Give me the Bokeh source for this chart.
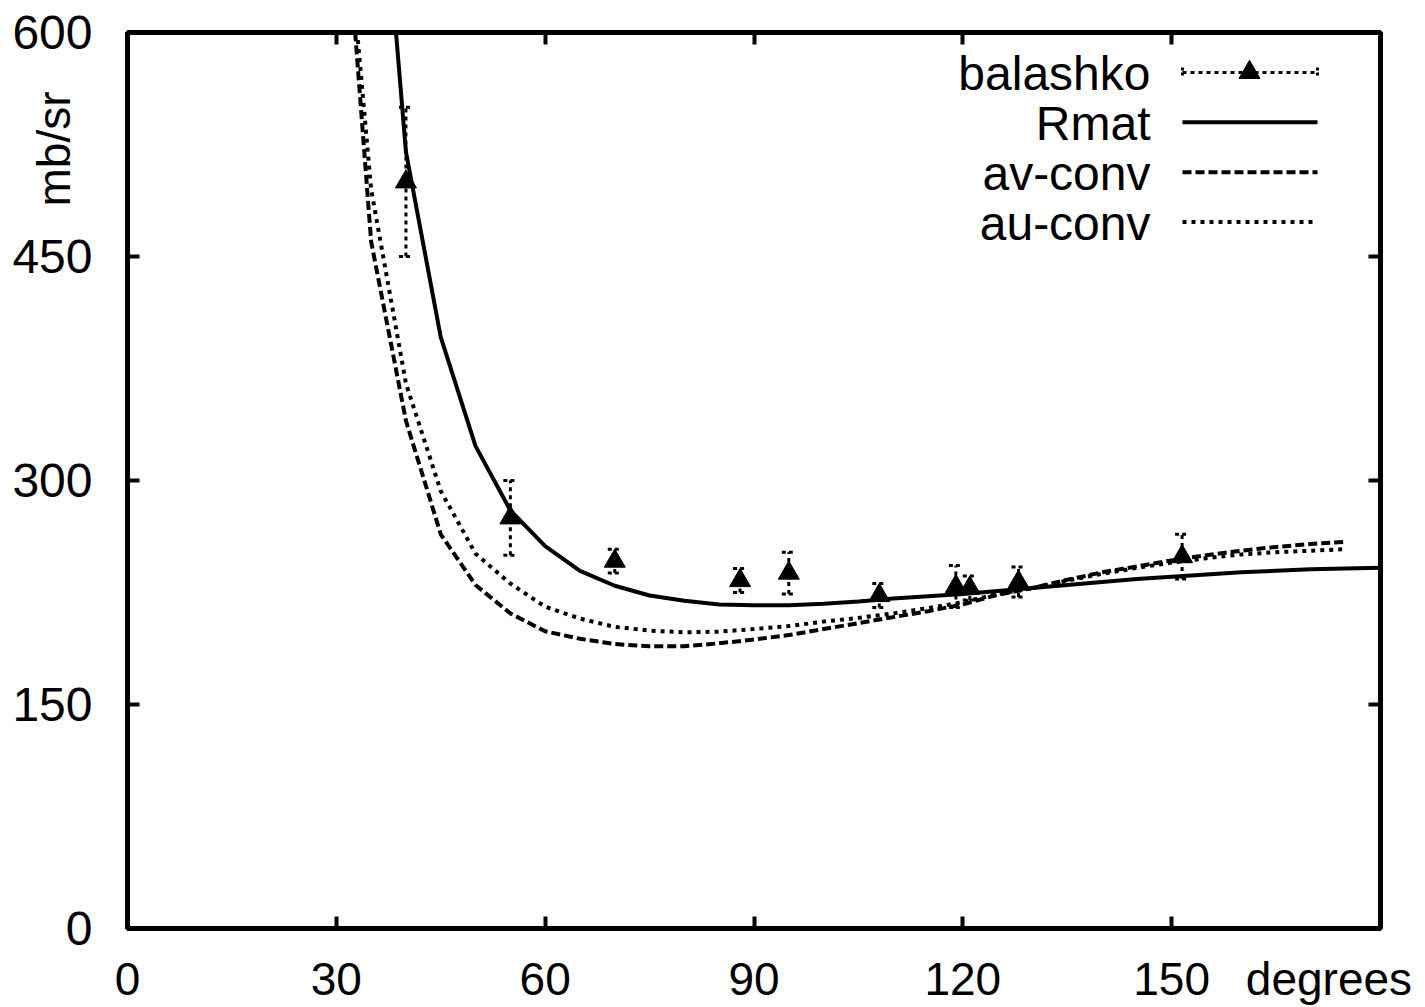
import math

from bokeh.plotting import figure
from bokeh.models import LinearAxis, FixedTicker, Label, Range1d
from bokeh.embed import file_html
from bokeh.resources import INLINE

FONT = "Liberation Sans"

# axis ticks
x_ticks = [0, 30, 60, 90, 120, 150]
y_ticks = [0, 150, 300, 450, 600]
x_unit_pos = 172.6  # where the "degrees" caption sits along the x scale
y_unit_pos = 522    # where the "mb/sr" caption sits along the y scale

# measured cross sections (balashko) with uncertainties
exp_angle = [40, 55, 70, 88, 95, 108, 119, 121, 128, 151.5]
exp_value = [500, 275, 246, 233, 238, 223, 229, 228, 232, 249]
exp_error = [50, 25, 8, 8, 14, 8, 14, 8, 10, 15]

# R-matrix calculation
rmat_angle = list(range(35, 181, 5))
rmat_value = [800, 520, 396, 323, 280, 256, 239.5, 229.5, 223, 219.5,
              217, 216.5, 216.5, 217.5, 219, 221, 222.5, 224, 226, 228,
              230, 232, 234, 235.5, 237, 238.5, 239.5, 240.5, 241, 241.5]

# convolution calculations
conv_angle = list(range(30, 176, 5))
av_value = [765, 460, 340, 264, 230, 211, 199, 194, 190.5, 189,
            189, 191, 193.5, 196.5, 200.5, 204.5, 208.5, 212.5, 217, 223.5,
            228, 233.5, 238.5, 242.5, 246.5, 250, 253, 255.5, 257.5, 259]
au_value = [757, 495, 365, 293, 251, 231, 215.5, 207.5, 202, 199.5,
            198.3, 198.8, 200.5, 202.5, 205.5, 208, 211, 214.5, 218.5, 224,
            228, 233, 237.5, 241.5, 245, 248, 250.5, 252, 253, 254]

X_MAX, Y_MAX = 180, 600
LEFT, RIGHT, TOP, BOTTOM = 127, 45, 32, 77
W, H = 1425, 1007

p = figure(width=W, height=H, x_range=Range1d(0, X_MAX), y_range=Range1d(0, Y_MAX),
           output_backend="svg", toolbar_location=None,
           min_border_left=LEFT, min_border_right=RIGHT,
           min_border_top=TOP, min_border_bottom=BOTTOM)

p.xgrid.visible = False
p.ygrid.visible = False
p.outline_line_color = "black"
p.outline_line_width = 5
p.background_fill_color = "white"
p.border_fill_color = "white"


def tick_axis(ax, ticks):
    """Inward ticks only, no labels."""
    ax.ticker = FixedTicker(ticks=ticks)
    ax.axis_line_color = None
    ax.major_tick_in = 12
    ax.major_tick_out = 0
    ax.major_tick_line_width = 4
    ax.major_tick_line_color = "black"
    ax.minor_tick_line_color = None
    ax.major_label_overrides = {t: "" for t in ticks}
    ax.major_label_text_font_size = "1px"
    ax.major_label_standoff = 0


def label_axis(ax, ticks, standoff):
    """Labels only, no tick marks."""
    ax.ticker = FixedTicker(ticks=ticks)
    ax.axis_line_color = None
    ax.major_tick_in = 0
    ax.major_tick_out = 0
    ax.major_tick_line_color = None
    ax.minor_tick_line_color = None
    ax.major_label_text_font = FONT
    ax.major_label_text_font_size = "46px"
    ax.major_label_text_color = "black"
    ax.major_label_standoff = standoff


# bottom: ticks on the frame, then a label row that also carries the unit
tick_axis(p.xaxis[0], x_ticks)
x_labels = LinearAxis()
label_axis(x_labels, x_ticks + [x_unit_pos], 24)
x_labels.major_label_overrides = {x_unit_pos: "degrees"}
p.add_layout(x_labels, "below")

# left: ticks with numbers
ya = p.yaxis[0]
ya.ticker = FixedTicker(ticks=y_ticks)
ya.axis_line_color = None
ya.major_tick_in = 12
ya.major_tick_out = 0
ya.major_tick_line_width = 4
ya.major_tick_line_color = "black"
ya.minor_tick_line_color = None
ya.major_label_text_font = FONT
ya.major_label_text_font_size = "48px"
ya.major_label_text_color = "black"
ya.major_label_standoff = 35

# unit caption, turned upright, pulled back over the number column
y_unit = LinearAxis()
label_axis(y_unit, [y_unit_pos], -71)
y_unit.major_label_overrides = {y_unit_pos: "mb/sr"}
y_unit.major_label_orientation = "vertical"
p.add_layout(y_unit, "left")

# mirrored ticks on top and right
top_axis = LinearAxis()
tick_axis(top_axis, x_ticks)
p.add_layout(top_axis, "above")
right_axis = LinearAxis()
tick_axis(right_axis, y_ticks)
p.add_layout(right_axis, "right")

# curves
p.line(rmat_angle, rmat_value, line_color="black", line_width=4)
p.line(conv_angle, av_value, line_color="black", line_width=4, line_dash="9 4")
p.line(conv_angle, au_value, line_color="black", line_width=4, line_dash="4 5")

# data points with error bars
lo = [v - e for v, e in zip(exp_value, exp_error)]
hi = [v + e for v, e in zip(exp_value, exp_error)]
p.segment(x0=exp_angle, y0=lo, x1=exp_angle, y1=hi,
          line_color="black", line_width=3, line_dash="4 4")
p.scatter(exp_angle + exp_angle, lo + hi, marker="dash", size=14,
          line_color="black", line_width=3, line_dash="4 3")
p.scatter(exp_angle, exp_value, marker="triangle", size=21,
          fill_color="black", line_color="black")


# key, placed in pixel terms inside the frame
def dx(px):
    return (px - LEFT) / (W - LEFT - RIGHT) * X_MAX


def dy(py):
    return (H - BOTTOM - py) / (H - TOP - BOTTOM) * Y_MAX


names = ["balashko", "Rmat", "av-conv", "au-conv"]
rows = [72, 122, 172, 222]
x0, x1 = 1182, 1317
for name, ry in zip(names, rows):
    p.add_layout(Label(x=dx(1150), y=dy(ry + 1), text=name, text_align="right",
                       text_baseline="middle", text_font=FONT,
                       text_font_size="48px", text_color="black"))

ry = rows[0]
p.line([dx(x0), dx(x1)], [dy(ry), dy(ry)], line_color="black", line_width=3, line_dash="4 4")
p.segment(x0=[dx(x0), dx(x1)], y0=[dy(ry - 5)] * 2, x1=[dx(x0), dx(x1)], y1=[dy(ry + 5)] * 2,
          line_color="black", line_width=3, line_dash="3 2")
p.scatter([dx(1249)], [dy(ry)], marker="triangle", size=21, fill_color="black", line_color="black")
ry = rows[1]
p.line([dx(x0), dx(x1)], [dy(ry), dy(ry)], line_color="black", line_width=4)
ry = rows[2]
p.line([dx(x0), dx(x1)], [dy(ry), dy(ry)], line_color="black", line_width=4, line_dash="9 4")
ry = rows[3]
p.line([dx(x0), dx(1313)], [dy(ry), dy(ry)], line_color="black", line_width=4, line_dash="4 5")

open("out.html", "w").write(file_html(p, INLINE))
